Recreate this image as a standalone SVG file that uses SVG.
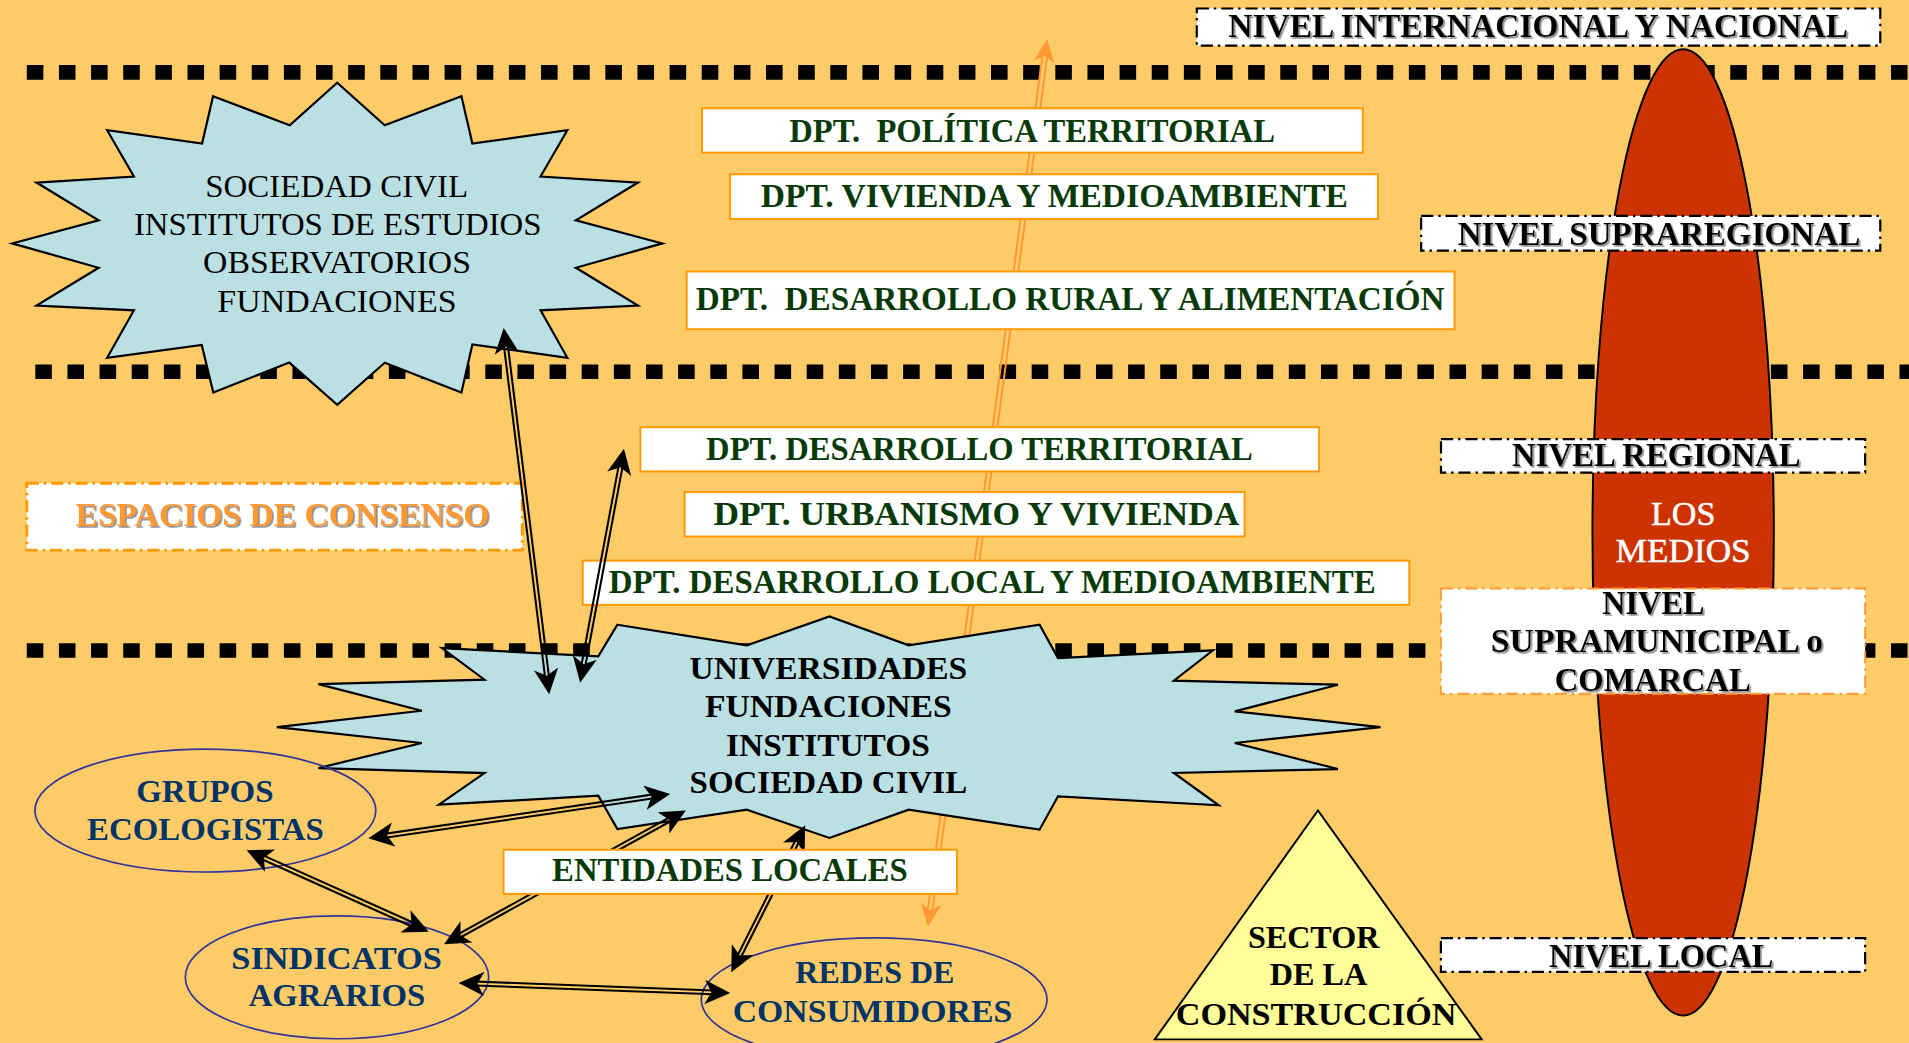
<svg xmlns="http://www.w3.org/2000/svg" width="1909" height="1043" viewBox="0 0 1909 1043">
<defs>
<filter id="sh" x="-5%" y="-20%" width="110%" height="150%"><feDropShadow dx="1.4" dy="1.4" stdDeviation="0.4" flood-color="#8f8f8f" flood-opacity="1"/></filter>
<marker id="ah" viewBox="0 -10 21 20" refX="13" refY="0" markerWidth="21" markerHeight="20" markerUnits="userSpaceOnUse" orient="auto-start-reverse"><path d="M0,-10 L21,0 L0,10 L5.5,0 z" fill="#000"/></marker>
<marker id="oah" viewBox="0 -8.5 19 17" refX="11.5" refY="0" markerWidth="19" markerHeight="17" markerUnits="userSpaceOnUse" orient="auto-start-reverse"><path d="M0,-8.5 L19,0 L0,8.5 L5,0 z" fill="#FF9933"/></marker>
</defs>
<style>
.bg{fill:#FECB69}
.dots{fill:none;stroke:#000;stroke-width:12;stroke-dasharray:13.6 12.8}
.star{fill:#BBE0E3;stroke:#000;stroke-width:1.8;stroke-linejoin:miter}
.dpt-box{fill:#fff;stroke:#FF9900;stroke-width:1.6}
.dpt{font-family:"Liberation Serif",serif;font-weight:bold;font-size:27.5px;fill:#073A07;text-anchor:middle;white-space:pre}
.lvl-box{fill:#fff;stroke:#000;stroke-width:1.8;stroke-dasharray:10 4 2 4}
.lvl{font-family:"Liberation Serif",serif;font-weight:bold;font-size:28px;fill:#000;text-anchor:middle;filter:url(#sh)}
.reg{font-family:"Liberation Serif",serif;font-size:26.5px;fill:#000;text-anchor:middle}
.bold{font-family:"Liberation Serif",serif;font-weight:bold;font-size:26.5px;fill:#000;text-anchor:middle}
.oval{fill:none;stroke:#333399;stroke-width:1.4}
.ovt{font-family:"Liberation Serif",serif;font-weight:bold;font-size:26px;fill:#003366;text-anchor:middle}
.rail{fill:none;stroke:#000;stroke-width:1.7}
.orail{fill:none;stroke:#FF9933;stroke-width:1.6}
.head{fill:none;stroke:none;marker-start:url(#ah);marker-end:url(#ah)}
.ohead{fill:none;stroke:none;marker-start:url(#oah);marker-end:url(#oah)}
</style>
<rect class="bg" x="0" y="0" width="1909" height="1043"/>
<g transform="scale(1.21747 1.21704)">
<g id="level-lines">
<path class="dots" d="M22,59.5 H1568"/>
<path class="dots" d="M29,305.5 H1568"/>
<path class="dots" d="M22,534.5 H1568"/>
</g>
<g id="connectors-back">
<g id="c-vertical">
<path class="orail" d="M765.1,754.4 L861.0,39.7 M761.3,753.8 L857.2,39.1"/>
<path class="ohead" d="M763.2,754.1 L859.1,39.4"/>
</g>
</g>
<g id="n-sociedad-civil-top">
<polygon class="star" points="277,68 316,103 379,79 388,118 466,107 444,145 524,150 473,181 544,200 473,220 524,251 444,255 466,294 388,283 379,322.5 316,298 277,332.7 237.6,297.9 175.2,322.5 165.7,283.4 88,294 110,255 30,251 81,220 10,200 81,181 30,150 110,145 88,107 166,118 175,79 238,103"/>
<text class="reg" x="276.5" y="161.5" textLength="216" lengthAdjust="spacingAndGlyphs">SOCIEDAD CIVIL</text>
<text class="reg" x="277.4" y="193" textLength="334.8" lengthAdjust="spacingAndGlyphs">INSTITUTOS DE ESTUDIOS</text>
<text class="reg" x="276.8" y="224.5" textLength="220" lengthAdjust="spacingAndGlyphs">OBSERVATORIOS</text>
<text class="reg" x="276.8" y="256" textLength="196.5" lengthAdjust="spacingAndGlyphs">FUNDACIONES</text>
</g>
<g id="n-los-medios">
<ellipse cx="1382.5" cy="437.5" rx="74.5" ry="397" fill="#CC3300" stroke="#000" stroke-width="1.6"/>
<text x="1382.5" y="431" font-family="Liberation Serif, serif" font-size="28" fill="#fff" stroke="#fff" stroke-width="0.4" text-anchor="middle" textLength="53" lengthAdjust="spacingAndGlyphs">LOS</text>
<text x="1382.5" y="462" font-family="Liberation Serif, serif" font-size="28" fill="#fff" stroke="#fff" stroke-width="0.4" text-anchor="middle" textLength="111" lengthAdjust="spacingAndGlyphs">MEDIOS</text>
</g>
<g id="n-dpt-politica">
<rect class="dpt-box" x="576.6" y="89" width="542.8" height="36.4"/>
<text class="dpt" x="847.7" y="116.4" textLength="399" lengthAdjust="spacingAndGlyphs" xml:space="preserve">DPT.  POLÍTICA TERRITORIAL</text>
</g>
<g id="n-dpt-vivienda">
<rect class="dpt-box" x="599.6" y="143.2" width="532.2" height="36.7"/>
<text class="dpt" x="866" y="170.3" textLength="482.4" lengthAdjust="spacingAndGlyphs">DPT. VIVIENDA Y MEDIOAMBIENTE</text>
</g>
<g id="n-dpt-rural">
<rect class="dpt-box" x="564" y="223.1" width="630.7" height="47.4"/>
<text class="dpt" x="879" y="255" textLength="615" lengthAdjust="spacingAndGlyphs" xml:space="preserve">DPT.  DESARROLLO RURAL Y ALIMENTACIÓN</text>
</g>
<g id="n-espacios">
<rect x="22" y="397" width="407" height="55" fill="#fff" stroke="#FF9900" stroke-width="2.4" stroke-dasharray="10 4 2 4"/>
<text x="232" y="432" font-family="Liberation Serif, serif" font-weight="bold" font-size="27" fill="#FF9933" text-anchor="middle" textLength="340" lengthAdjust="spacingAndGlyphs" filter="url(#sh)">ESPACIOS DE CONSENSO</text>
</g>
<g id="n-dpt-territorial">
<rect class="dpt-box" x="526" y="351" width="557.5" height="36.4"/>
<text class="dpt" x="804.5" y="378.3" textLength="449" lengthAdjust="spacingAndGlyphs">DPT. DESARROLLO TERRITORIAL</text>
</g>
<g id="n-dpt-urbanismo">
<rect class="dpt-box" x="562.3" y="404.3" width="460" height="36.5"/>
<text class="dpt" x="802" y="431.7" textLength="432" lengthAdjust="spacingAndGlyphs">DPT. URBANISMO Y VIVIENDA</text>
</g>
<g id="n-dpt-local">
<rect class="dpt-box" x="478.6" y="460.7" width="679" height="36.3"/>
<text class="dpt" x="815" y="487.3" textLength="630" lengthAdjust="spacingAndGlyphs">DPT. DESARROLLO LOCAL Y MEDIOAMBIENTE</text>
</g>
<g id="n-universidades">
<polygon class="star" points="507.1,513.3 613.4,530.3 681.3,506.5 746.4,530.3 853.9,513.3 869,540.7 996.3,534.4 964.2,559.3 1099,562.6 1014.2,584.5 1133.9,597.4 1014.2,610.5 1099,631.9 964.2,635.1 1001,661.7 869,654.3 853.9,681.7 746.4,665.3 681.3,688.5 613.4,665.3 507.1,681.2 491.4,653.8 360.5,661.2 397.9,635.2 261.5,631.1 346.5,610.5 227.4,597.4 346.5,584 261.5,562.1 397.9,558.5 363,532.5 491.4,539.3"/>
<text class="bold" x="680.4" y="557.9" textLength="228" lengthAdjust="spacingAndGlyphs">UNIVERSIDADES</text>
<text class="bold" x="680.4" y="589.4" textLength="202.7" lengthAdjust="spacingAndGlyphs">FUNDACIONES</text>
<text class="bold" x="680.1" y="620.9" textLength="167.4" lengthAdjust="spacingAndGlyphs">INSTITUTOS</text>
<text class="bold" x="680.4" y="651.6" textLength="228" lengthAdjust="spacingAndGlyphs">SOCIEDAD CIVIL</text>
</g>
<g id="n-grupos">
<ellipse class="oval" cx="168.7" cy="666" rx="140" ry="50.5"/>
<text class="ovt" x="168.3" y="659" textLength="112.9" lengthAdjust="spacingAndGlyphs">GRUPOS</text>
<text class="ovt" x="168.7" y="690" textLength="194.4" lengthAdjust="spacingAndGlyphs">ECOLOGISTAS</text>
</g>
<g id="n-sindicatos">
<ellipse class="oval" cx="276.8" cy="803" rx="124.6" ry="50.5"/>
<text class="ovt" x="276.5" y="796.2" textLength="173" lengthAdjust="spacingAndGlyphs">SINDICATOS</text>
<text class="ovt" x="276.8" y="826.8" textLength="145" lengthAdjust="spacingAndGlyphs">AGRARIOS</text>
</g>
<g id="n-redes">
<ellipse class="oval" cx="718" cy="821.2" rx="142" ry="50.5"/>
<text class="ovt" x="718.6" y="807.7" textLength="130.7" lengthAdjust="spacingAndGlyphs">REDES DE</text>
<text class="ovt" x="716.6" y="839.7" textLength="229.6" lengthAdjust="spacingAndGlyphs">CONSUMIDORES</text>
</g>
<g id="n-sector">
<polygon points="1082.5,666 948.5,854 1217,854" fill="#FFFF99" stroke="#000" stroke-width="1.6"/>
<text class="bold" x="1079" y="779" textLength="108" lengthAdjust="spacingAndGlyphs">SECTOR</text>
<text class="bold" x="1083" y="809.6" textLength="80" lengthAdjust="spacingAndGlyphs">DE LA</text>
<text class="bold" x="1081" y="842" textLength="230.5" lengthAdjust="spacingAndGlyphs">CONSTRUCCIÓN</text>
</g>
<g id="connectors">
<g id="c-a"><path class="rail" d="M413.1,277.6 L448.5,562.8 M416.3,277.2 L451.7,562.4"/><path class="head" d="M414.7,277.4 L450.1,562.6"/></g>
<g id="c-b"><path class="rail" d="M509.4,376.2 L476.4,552.8 M512.6,376.8 L479.6,553.4"/><path class="head" d="M511.0,376.5 L478.0,553.1"/></g>
<g id="c-c"><path class="rail" d="M310.7,689.2 L542.8,655.1 M310.3,686.0 L542.4,651.9"/><path class="head" d="M310.5,687.6 L542.6,653.5"/></g>
<g id="c-d"><path class="rail" d="M372.5,773.4 L557.1,671.3 M370.9,770.6 L555.5,668.5"/><path class="head" d="M371.7,772.0 L556.3,669.9"/></g>
<g id="c-e"><path class="rail" d="M209.2,703.4 L344.2,763.9 M210.6,700.4 L345.6,760.9"/><path class="head" d="M209.9,701.9 L344.9,762.4"/></g>
<g id="c-f"><path class="rail" d="M384.6,809.5 L591.7,817.2 M384.8,806.3 L591.9,814.0"/><path class="head" d="M384.7,807.9 L591.8,815.6"/></g>
<g id="c-g"><path class="rail" d="M605.6,792.5 L659.2,685.9 M602.8,791.1 L656.4,684.5"/><path class="head" d="M604.2,791.8 L657.8,685.2"/></g>
</g>
<g id="n-entidades">
<rect class="dpt-box" x="413.6" y="698.2" width="372.4" height="36.3"/>
<text class="dpt" x="599.5" y="724.2" textLength="292" lengthAdjust="spacingAndGlyphs">ENTIDADES LOCALES</text>
</g>
<g id="n-nivel-internacional">
<rect class="lvl-box" x="983" y="7" width="561.4" height="30.5"/>
<text class="lvl" x="1263.4" y="30" textLength="509" lengthAdjust="spacingAndGlyphs">NIVEL INTERNACIONAL Y NACIONAL</text>
</g>
<g id="n-nivel-supraregional">
<rect class="lvl-box" x="1167.3" y="177.4" width="377.1" height="28.6"/>
<text class="lvl" x="1362.7" y="201.2" textLength="330.8" lengthAdjust="spacingAndGlyphs">NIVEL SUPRAREGIONAL</text>
</g>
<g id="n-nivel-regional">
<rect class="lvl-box" x="1183.6" y="360.8" width="348.4" height="27.5"/>
<text class="lvl" x="1360.5" y="383.3" textLength="237" lengthAdjust="spacingAndGlyphs">NIVEL REGIONAL</text>
</g>
<g id="n-nivel-supramunicipal">
<rect x="1183.5" y="483.6" width="348.5" height="86.4" fill="#fff" stroke="#FF9933" stroke-width="1.6" stroke-dasharray="10 4 2 4"/>
<text class="lvl" x="1358" y="504.2" textLength="84" lengthAdjust="spacingAndGlyphs">NIVEL</text>
<text class="lvl" x="1361" y="535.9" textLength="273" lengthAdjust="spacingAndGlyphs">SUPRAMUNICIPAL o</text>
<text class="lvl" x="1357.5" y="567.9" textLength="161" lengthAdjust="spacingAndGlyphs">COMARCAL</text>
</g>
<g id="n-nivel-local">
<rect class="lvl-box" x="1183.5" y="770.8" width="348.5" height="27.7"/>
<text class="lvl" x="1364.5" y="794.6" textLength="184.4" lengthAdjust="spacingAndGlyphs">NIVEL LOCAL</text>
</g>
</g>
</svg>
